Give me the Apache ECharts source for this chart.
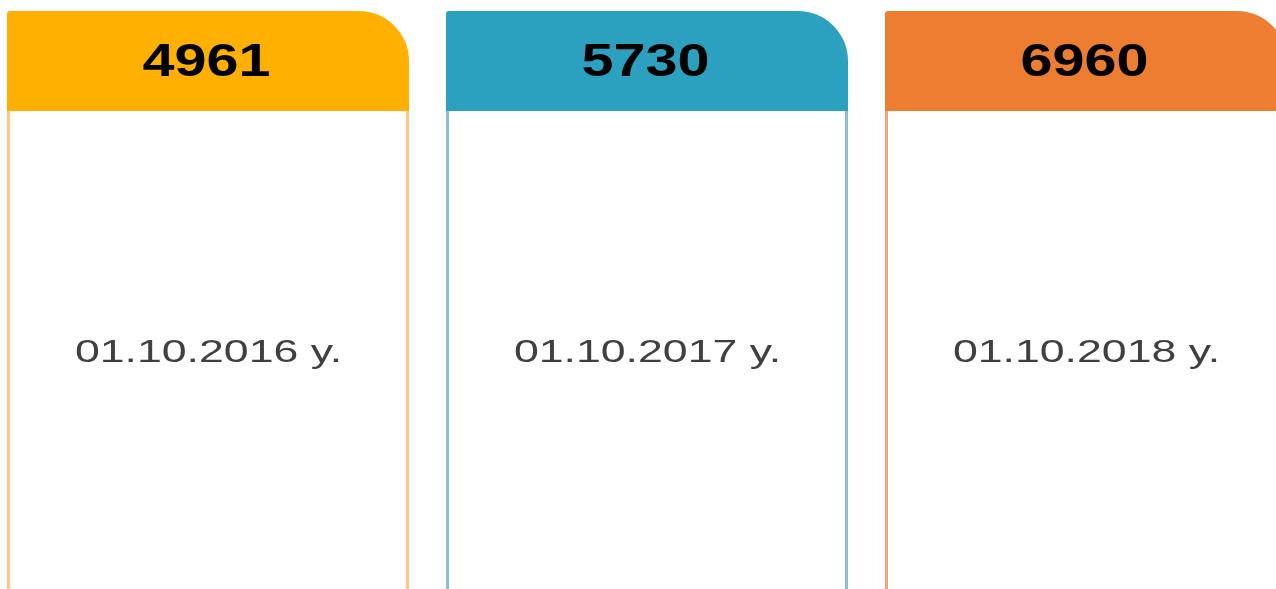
<!DOCTYPE html>
<html>
<head>
<meta charset="utf-8">
<script src="https://cdn.jsdelivr.net/npm/echarts@6/dist/echarts.min.js"></script>
<style>
html,body{margin:0;padding:0;background:#fff;}
#c{width:1276px;height:589px;}
</style>
</head>
<body>
<div id="c"></div>
<script>
const categories = ['01.10.2016 y.', '01.10.2017 y.', '01.10.2018 y.'];
const values = [4961, 5730, 6960];
const headerColors = ['#FFB000', '#2CA1BF', '#ED7D31'];
const borderColors = ['#FFC787', '#88BFD5', '#F2A384'];

const chart = echarts.init(document.getElementById('c'), null, {renderer: 'canvas'});

const unit = 439;               // px per card slot
const xMin = -208 / unit;
const xMax = xMin + 1276 / unit;
const cardFrac = 402 / unit;

chart.setOption({
  animation: false,
  backgroundColor: '#ffffff',
  grid: {left: 0, right: 0, top: 0, bottom: 0},
  xAxis: {type: 'value', show: false, min: xMin, max: xMax},
  yAxis: {type: 'value', show: false, min: 0, max: 10000},
  series: [{
    type: 'custom',
    clip: false,
    data: values.map((v, i) => [i, v]),
    renderItem: function (params, api) {
      const i = api.value(0);
      const v = api.value(1);
      const c = api.coord([i, 0]);
      const w = api.size([cardFrac, 0])[0];
      const x0 = c[0] - w / 2;
      const top = 11, headH = 100;
      return {
        type: 'group',
        children: [
          {type: 'line', shape: {x1: x0 + 1.5, y1: top + headH, x2: x0 + 1.5, y2: 600},
           style: {stroke: borderColors[i], lineWidth: 3}},
          {type: 'line', shape: {x1: x0 + w - 1.5, y1: top + headH, x2: x0 + w - 1.5, y2: 600},
           style: {stroke: borderColors[i], lineWidth: 3}},
          {type: 'rect', shape: {x: x0, y: top, width: w, height: headH, r: [3, 50, 0, 0]},
           style: {fill: headerColors[i]}},
          {type: 'text', x: c[0] - 1.5, y: 63, scaleX: 1.25,
           style: {text: String(v), font: 'bold 46px "Liberation Sans", Arial, sans-serif',
                   fill: '#000000', align: 'center', verticalAlign: 'middle'}},
          {type: 'text', x: c[0] + 0.5, y: 353, scaleX: 1.44,
           style: {text: categories[i], font: '31px "Liberation Sans", Arial, sans-serif',
                   fill: '#404040', align: 'center', verticalAlign: 'middle'}}
        ]
      };
    }
  }]
});
</script>
</body>
</html>
